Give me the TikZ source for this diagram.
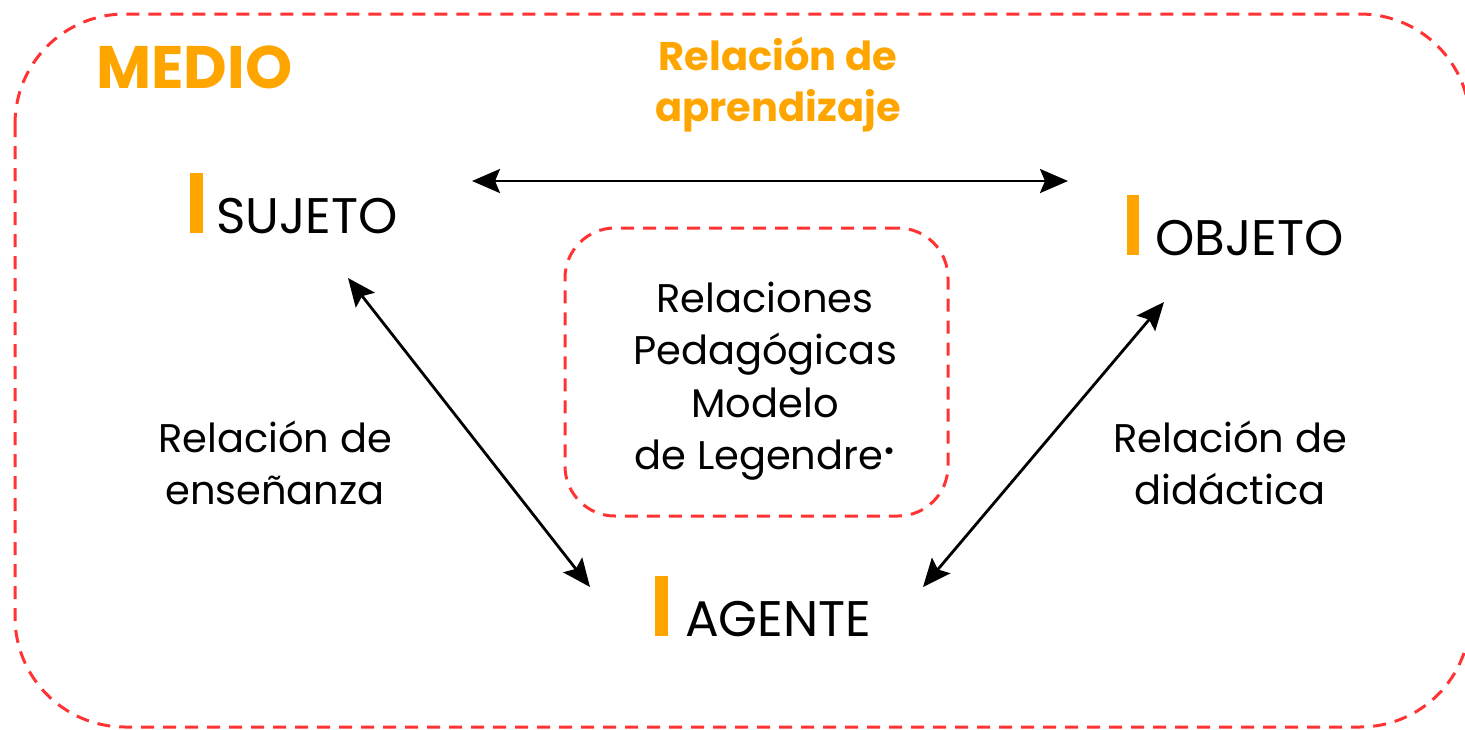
\documentclass[tikz,border=0pt]{standalone}
\usepackage{fontspec}
\setmainfont{Poppins}
\usetikzlibrary{arrows.meta}
\definecolor{morange}{RGB}{255,165,0}
\definecolor{mred}{RGB}{255,51,51}
\tikzset{
  dashbox/.style={draw=mred, line width=3pt, dash pattern=on 13pt off 9pt},
  rel/.style={{Stealth[length=28pt,width=24pt,inset=5pt]}-{Stealth[length=28pt,width=24pt,inset=5pt]}, line width=2.8pt, black},
  lbl/.style={font=\fontsize{40}{52.5}\selectfont, align=center, inner sep=0pt},
  olbl/.style={font=\fontsize{40}{51}\selectfont\bfseries, text=morange, align=center, inner sep=0pt},
  term/.style={font=\fontsize{50}{60}\selectfont, anchor=base west, inner sep=0pt},
  bar/.style={fill=morange, draw=none}
}
\begin{document}
\begin{tikzpicture}[x=1pt,y=-1pt]
\useasboundingbox (0,0) rectangle (1465,729);
% outer box
\draw[dashbox, rounded corners=110pt] (15,14) rectangle (1470,727);
% inner box
\node[dashbox, rounded corners=50pt, minimum width=383pt, minimum height=288pt, inner sep=0pt] (inner) at (756.5,372) {};
\node[lbl] (centre) at (765,381) {Relaciones\\Pedagógicas\\Modelo\\de Legendre\textsuperscript{\textbullet}};
% MEDIO
\node[font=\fontsize{60}{60}\selectfont\bfseries, text=morange, anchor=base west, inner sep=0pt] (medio) at (96,88) {MEDIO};
\node[olbl] (aprend) at (778,85) {Relación de\\aprendizaje};
% terms
\fill[bar] (190,173) rectangle (203,233);
\node[term] (sujeto) at (216,233) {SUJETO};
\fill[bar] (1127,195) rectangle (1139,255);
\node[term] (objeto) at (1155,255) {OBJETO};
\fill[bar] (655,576) rectangle (668,636);
\node[term] (agente) at (685,636) {AGENTE};
% side labels
\node[lbl] (ensen) at (275,463) {Relación de\\enseñanza};
\node[lbl] (didac) at (1230,463) {Relación de\\didáctica};
% arrow endpoints
\coordinate (s1) at (472,181);
\coordinate (o1) at (1068,181);
\coordinate (s2) at (348,278);
\coordinate (a1) at (590,587);
\coordinate (o2) at (1164,302);
\coordinate (a2) at (923,587);
\draw[rel] (s1) -- (o1);
\draw[rel] (s2) -- (a1);
\draw[rel] (o2) -- (a2);
\end{tikzpicture}
\end{document}
